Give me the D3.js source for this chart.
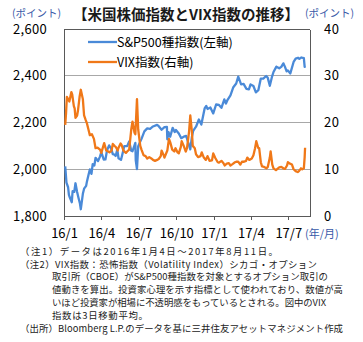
<!DOCTYPE html>
<html><head><meta charset="utf-8">
<script src="https://cdn.jsdelivr.net/npm/d3@7"></script>
<style>
html,body{margin:0;padding:0;background:#fff;}
svg{display:block;}
text{font-family:"Noto Sans CJK JP","Noto Sans",sans-serif;}
</style></head>
<body>
<script>
// ---- data ----
const spxDates = ["2016-01-04","2016-01-07","2016-01-11","2016-01-13","2016-01-15","2016-01-20","2016-01-22","2016-01-26","2016-01-29","2016-02-02","2016-02-05","2016-02-09","2016-02-11","2016-02-16","2016-02-19","2016-02-24","2016-02-26","2016-03-01","2016-03-04","2016-03-08","2016-03-11","2016-03-15","2016-03-18","2016-03-24","2016-03-29","2016-04-01","2016-04-07","2016-04-11","2016-04-15","2016-04-20","2016-04-25","2016-04-29","2016-05-03","2016-05-06","2016-05-10","2016-05-13","2016-05-19","2016-05-24","2016-05-27","2016-06-03","2016-06-08","2016-06-13","2016-06-16","2016-06-23","2016-06-24","2016-06-27","2016-06-30","2016-07-08","2016-07-15","2016-07-22","2016-07-29","2016-08-05","2016-08-15","2016-08-19","2016-08-26","2016-09-02","2016-09-08","2016-09-09","2016-09-12","2016-09-16","2016-09-22","2016-09-27","2016-09-30","2016-10-07","2016-10-13","2016-10-21","2016-10-25","2016-10-28","2016-11-04","2016-11-08","2016-11-11","2016-11-18","2016-11-25","2016-12-01","2016-12-09","2016-12-13","2016-12-16","2016-12-23","2016-12-30","2017-01-06","2017-01-13","2017-01-19","2017-01-26","2017-01-30","2017-02-03","2017-02-10","2017-02-17","2017-02-24","2017-03-01","2017-03-08","2017-03-14","2017-03-21","2017-03-27","2017-03-31","2017-04-07","2017-04-13","2017-04-19","2017-04-25","2017-05-01","2017-05-08","2017-05-12","2017-05-17","2017-05-22","2017-05-26","2017-06-02","2017-06-09","2017-06-14","2017-06-19","2017-06-23","2017-06-27","2017-06-30","2017-07-06","2017-07-14","2017-07-19","2017-07-25","2017-07-28","2017-08-02","2017-08-08","2017-08-10","2017-08-11"];
const spxValues = [2012,1943,1923,1890,1880,1859,1906,1903,1940,1903,1880,1852,1829,1895,1917,1929,1948,1978,1999,1980,2022,2016,2049,2035,2055,2073,2041,2042,2081,2102,2088,2065,2063,2057,2084,2047,2040,2076,2099,2099,2119,2079,2077,2113,2038,2001,2099,2130,2162,2175,2173,2183,2190,2184,2169,2180,2181,2128,2159,2139,2177,2159,2168,2153,2133,2141,2143,2126,2085,2139,2164,2182,2213,2191,2260,2271,2258,2264,2239,2277,2275,2263,2299,2281,2297,2316,2351,2367,2396,2363,2365,2344,2342,2363,2356,2329,2338,2388,2388,2399,2391,2357,2394,2416,2439,2432,2438,2453,2438,2419,2423,2410,2459,2473,2477,2472,2478,2475,2438,2441];

const vixDates = ["2016-01-04","2016-01-06","2016-01-08","2016-01-12","2016-01-14","2016-01-19","2016-01-21","2016-01-25","2016-01-27","2016-01-29","2016-02-02","2016-02-04","2016-02-08","2016-02-11","2016-02-16","2016-02-19","2016-02-23","2016-02-26","2016-03-02","2016-03-04","2016-03-09","2016-03-14","2016-03-18","2016-03-23","2016-03-29","2016-04-01","2016-04-06","2016-04-08","2016-04-13","2016-04-18","2016-04-21","2016-04-26","2016-04-29","2016-05-03","2016-05-06","2016-05-11","2016-05-13","2016-05-18","2016-05-20","2016-05-25","2016-05-31","2016-06-03","2016-06-08","2016-06-13","2016-06-16","2016-06-21","2016-06-23","2016-06-27","2016-06-30","2016-07-05","2016-07-08","2016-07-13","2016-07-18","2016-07-22","2016-07-27","2016-08-01","2016-08-05","2016-08-10","2016-08-15","2016-08-19","2016-08-24","2016-08-26","2016-08-31","2016-09-02","2016-09-09","2016-09-13","2016-09-16","2016-09-21","2016-09-26","2016-09-29","2016-10-04","2016-10-07","2016-10-12","2016-10-14","2016-10-19","2016-10-24","2016-10-27","2016-11-01","2016-11-04","2016-11-08","2016-11-10","2016-11-15","2016-11-18","2016-11-23","2016-11-29","2016-12-02","2016-12-07","2016-12-12","2016-12-16","2016-12-21","2016-12-27","2016-12-30","2017-01-04","2017-01-10","2017-01-13","2017-01-19","2017-01-24","2017-01-27","2017-02-01","2017-02-06","2017-02-10","2017-02-15","2017-02-21","2017-02-24","2017-03-01","2017-03-06","2017-03-10","2017-03-15","2017-03-20","2017-03-23","2017-03-28","2017-04-03","2017-04-07","2017-04-11","2017-04-14","2017-04-19","2017-04-21","2017-04-25","2017-04-28","2017-05-03","2017-05-09","2017-05-12","2017-05-17","2017-05-19","2017-05-23","2017-05-26","2017-06-01","2017-06-06","2017-06-09","2017-06-14","2017-06-19","2017-06-23","2017-06-28","2017-06-30","2017-07-05","2017-07-10","2017-07-14","2017-07-19","2017-07-24","2017-07-27","2017-08-01","2017-08-04","2017-08-08","2017-08-10","2017-08-11"];
const vixValues = [19.5,22,25.5,24.8,24.5,26.5,26,23.5,23,21,21.5,22.5,25.5,27,25,21.5,20.5,19.8,18,17.3,17.5,16.5,14.5,14.6,14.2,13.5,15,15.6,14,13.8,13.6,14,15.4,15,14.8,14,14.6,15.5,15.3,14,13.5,13.8,14.2,18.5,20.2,17.8,17.5,25,18.5,15,14.2,13,12.8,12.3,12.6,12.3,12,11.8,12,12.2,12.8,14,13,12.5,14,16.5,15.8,14.2,13.8,14.5,13.6,13.4,14.8,16,15,13.8,14.5,18,21.5,18,15,14.5,13.2,12.6,12.8,13.6,12.5,12,12.8,11.8,11.9,13.4,12.4,11.5,11.4,11.8,11.3,10.8,11.2,11.3,10.8,11.1,11.5,11.6,11.6,11,11.6,11.6,11.8,12.5,12,12.3,13,14.5,16,14.5,14.5,11.5,10.6,10.5,10.2,10.5,12.5,13.8,11,10.2,9.8,10.2,10.4,10.5,10.2,10.1,10.8,11.5,11.2,11,10,9.6,9.4,9.6,10.2,10,10.2,12.6,14.6];

const leftTicks = [1800,2000,2200,2400,2600];
const rightTicks = [0,10,20,30,40];
const seriesNames = ["S&P500種指数(左軸)","VIX指数(右軸)"];
const title = "【米国株価指数とVIX指数の推移】";
const notes = [
  {t:"（注1）データは2016年1月4日～2017年8月11日。", x:20, w:258},
  {t:"（注2）VIX指数：恐怖指数（Volatility Index）シカゴ・オプション", x:20, w:297},
  {t:"取引所（CBOE）がS&P500種指数を対象とするオプション取引の", x:52, w:276},
  {t:"値動きを算出。投資家心理を示す指標として使われており、数値が高", x:52, w:291},
  {t:"いほど投資家が相場に不透明感をもっているとされる。図中のVIX", x:52, w:274},
  {t:"指数は3日移動平均。", x:52, w:96},
  {t:"（出所）Bloomberg L.P.のデータを基に三井住友アセットマネジメント作成", x:20, w:323}
];

// ---- layout ----
const W = 363, H = 342;
const L = 64, R = 310, T = 29, B = 216;
const parse = d3.timeParse("%Y-%m-%d");

const svg = d3.select("body").append("svg").attr("width", W).attr("height", H);

const x = d3.scaleTime().domain([parse("2016-01-01"), parse("2017-08-23")]).range([L, R]);
const yL = d3.scaleLinear().domain([1800, 2600]).range([B, T]);
const yR = d3.scaleLinear().domain([0, 40]).range([B, T]);

// gridlines
svg.append("g").selectAll("line").data([2000,2200,2400]).join("line")
  .attr("x1", L).attr("x2", R)
  .attr("y1", d => yL(d)).attr("y2", d => yL(d))
  .attr("stroke", "#a8a8a8").attr("stroke-width", 1).attr("shape-rendering","crispEdges");

// frame
svg.append("line").attr("x1", L).attr("x2", R).attr("y1", T).attr("y2", T)
  .attr("stroke", "#595959").attr("shape-rendering","crispEdges");

// x axis
const xAxis = d3.axisBottom(x)
  .tickValues(d3.timeMonth.every(3).range(parse("2016-01-01"), parse("2017-08-01")))
  .tickFormat(d3.timeFormat("%y/%-m"))
  .tickSizeInner(4).tickSizeOuter(0).tickPadding(6);
const gx = svg.append("g").attr("transform", `translate(0,${B})`).call(xAxis);
gx.select(".domain").attr("stroke", "#595959").attr("shape-rendering","crispEdges");
gx.selectAll(".tick line").attr("stroke", "#595959").attr("shape-rendering","crispEdges");
gx.selectAll(".tick text").attr("font-size", 13).attr("fill", "#000")
  .attr("font-family", "'Liberation Sans',Arial,sans-serif").attr("dy", "0.95em");

// left axis
const gl = svg.append("g").attr("transform", `translate(${L},0)`)
  .call(d3.axisLeft(yL).tickValues(leftTicks).tickFormat(d3.format(",")).tickSize(0).tickPadding(17));
gl.select(".domain").attr("stroke", "#595959").attr("shape-rendering","crispEdges");
gl.selectAll(".tick text").attr("font-size", 13).attr("fill", "#000")
  .attr("font-family", "'Liberation Sans',Arial,sans-serif").attr("letter-spacing", "0.3px");

// right axis
const gr = svg.append("g").attr("transform", `translate(${R},0)`)
  .call(d3.axisRight(yR).tickValues(rightTicks).tickSize(0).tickPadding(14));
gr.select(".domain").attr("stroke", "#595959").attr("shape-rendering","crispEdges");
gr.selectAll(".tick text").attr("font-size", 13).attr("fill", "#000")
  .attr("font-family", "'Liberation Sans',Arial,sans-serif").attr("letter-spacing", "0.6px");

// lines
const spx = spxDates.map((d,i) => ({d: parse(d), v: spxValues[i]}));
const vix = vixDates.map((d,i) => ({d: parse(d), v: vixValues[i]}));
svg.append("path").datum(spx)
  .attr("fill", "none").attr("stroke", "#4a8ad8").attr("stroke-width", 2.3).attr("stroke-linejoin","round")
  .attr("d", d3.line().x(d => x(d.d)).y(d => yL(d.v)));
svg.append("path").datum(vix)
  .attr("fill", "none").attr("stroke", "#f07818").attr("stroke-width", 2.3).attr("stroke-linejoin","round")
  .attr("d", d3.line().x(d => x(d.d)).y(d => yR(d.v)));

// legend
const legColors = ["#4a8ad8", "#f07818"];
const leg = svg.append("g");
seriesNames.forEach((n, i) => {
  const yy = 42 + i * 20;
  leg.append("line").attr("x1", 88).attr("x2", 117).attr("y1", yy).attr("y2", yy)
    .attr("stroke", legColors[i]).attr("stroke-width", 2.3);
  leg.append("text").attr("x", 117).attr("y", yy).attr("dy", "0.36em")
    .attr("font-size", 12.5).attr("fill", "#000").text(n);
});

// title & unit labels
svg.append("text").attr("x", 186).attr("y", 15).attr("dy", "0.36em").attr("text-anchor", "middle")
  .attr("font-size", 14.5).attr("font-weight", "bold").attr("fill", "#1a1a1a").text(title);
svg.append("text").attr("x", 12).attr("y", 13).attr("dy", "0.36em")
  .attr("font-size", 10.5).attr("fill", "#3a5aa8").text("(ポイント)");
svg.append("text").attr("x", 305).attr("y", 13).attr("dy", "0.36em")
  .attr("font-size", 10.5).attr("fill", "#3a5aa8").text("(ポイント)");
svg.append("text").attr("x", 305).attr("y", 234).attr("dy", "0.36em")
  .attr("font-size", 11).attr("fill", "#3a5aa8").text("(年/月)");

// notes
svg.append("g").selectAll("text").data(notes).join("text")
  .attr("x", d => d.x).attr("y", (d,i) => 251.5 + i * 12.8).attr("dy", "0.36em")
  .attr("font-size", 9.4).attr("fill", "#222")
  .attr("textLength", d => d.w).attr("lengthAdjust", "spacing")
  .text(d => d.t);
</script>
</body></html>
